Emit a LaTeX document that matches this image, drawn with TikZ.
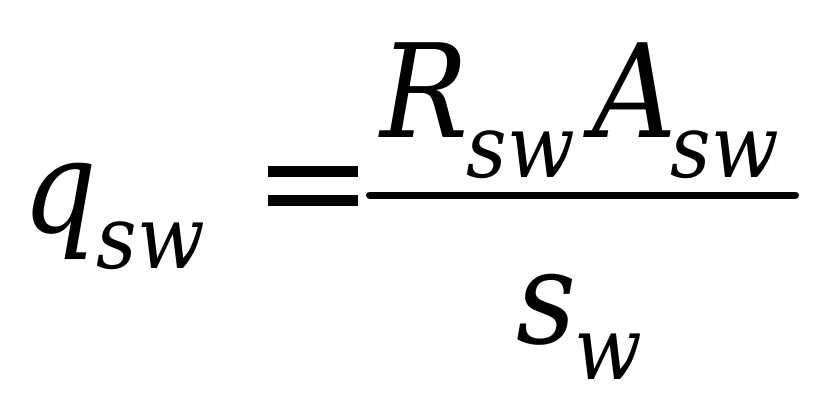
\documentclass[tikz,border=0pt]{standalone}
\usepackage{fontspec}
\setmainfont{DejaVu Serif Condensed}
\tikzset{
  sym/.style={anchor=base west, inner sep=0pt, font=\itshape\fontsize{37}{44}\selectfont},
  idx/.style={anchor=base west, inner sep=0pt, font=\itshape\fontsize{25}{30}\selectfont}
}
\begin{document}
\begin{tikzpicture}

  \useasboundingbox (0,0) rectangle (8.36,4.18);
  \node[sym] (q) at (0.22,1.86) {q};
  \node[idx] (qsub) at (0.96,1.49) {sw};
  \fill (2.68,2.41) rectangle (3.58,2.52);
  \fill (2.68,2.12) rectangle (3.58,2.23);
  \node[sym] (R) at (3.80,2.81) {R};
  \node[idx] (Rsub) at (4.66,2.41) {sw};
  \node[sym] (A) at (5.92,2.81) {A};
  \node[idx] (Asub) at (6.70,2.41) {sw};
  \coordinate (barl) at (3.695,2.23);
  \coordinate (barr) at (7.955,2.23);
  \draw[line width=0.07cm, line cap=round] (barl) -- (barr);
  \node[sym] (s) at (5.16,0.75) {s};
  \node[idx] (ssub) at (5.74,0.38) {w};

\end{tikzpicture}
\end{document}
